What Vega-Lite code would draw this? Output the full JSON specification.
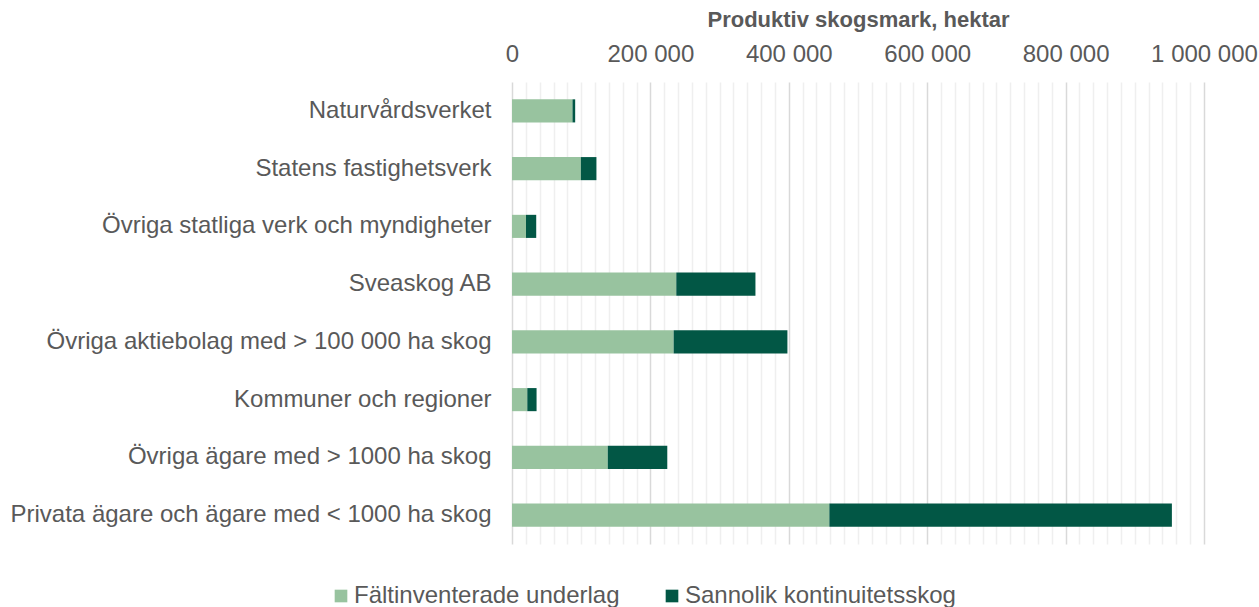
{
  "$schema": "https://vega.github.io/schema/vega-lite/v6.json",
  "width": 692,
  "height": 462,
  "autosize": {"type": "none"},
  "padding": {"left": 512, "top": 82, "right": 55, "bottom": 63},
  "background": "white",
  "config": {
    "font": "Liberation Sans",
    "view": {"stroke": null}
  },
  "data": {
    "values": [
      {"agare": "Naturvårdsverket", "typ": "Fältinventerade underlag", "hektar": 87400},
      {"agare": "Naturvårdsverket", "typ": "Sannolik kontinuitetsskog", "hektar": 3900},
      {"agare": "Statens fastighetsverk", "typ": "Fältinventerade underlag", "hektar": 99500},
      {"agare": "Statens fastighetsverk", "typ": "Sannolik kontinuitetsskog", "hektar": 22500},
      {"agare": "Övriga statliga verk och myndigheter", "typ": "Fältinventerade underlag", "hektar": 20200},
      {"agare": "Övriga statliga verk och myndigheter", "typ": "Sannolik kontinuitetsskog", "hektar": 14800},
      {"agare": "Sveaskog AB", "typ": "Fältinventerade underlag", "hektar": 237400},
      {"agare": "Sveaskog AB", "typ": "Sannolik kontinuitetsskog", "hektar": 114400},
      {"agare": "Övriga aktiebolag med > 100 000 ha skog", "typ": "Fältinventerade underlag", "hektar": 233600},
      {"agare": "Övriga aktiebolag med > 100 000 ha skog", "typ": "Sannolik kontinuitetsskog", "hektar": 164400},
      {"agare": "Kommuner och regioner", "typ": "Fältinventerade underlag", "hektar": 22100},
      {"agare": "Kommuner och regioner", "typ": "Sannolik kontinuitetsskog", "hektar": 13400},
      {"agare": "Övriga ägare med > 1000 ha skog", "typ": "Fältinventerade underlag", "hektar": 138400},
      {"agare": "Övriga ägare med > 1000 ha skog", "typ": "Sannolik kontinuitetsskog", "hektar": 86000},
      {"agare": "Privata ägare och ägare med < 1000 ha skog", "typ": "Fältinventerade underlag", "hektar": 458600},
      {"agare": "Privata ägare och ägare med < 1000 ha skog", "typ": "Sannolik kontinuitetsskog", "hektar": 495000}
    ]
  },
  "mark": {"type": "bar"},
  "encoding": {
    "y": {
      "field": "agare",
      "type": "nominal",
      "sort": null,
      "scale": {"paddingInner": 0.6, "paddingOuter": 0.3},
      "axis": {
        "title": null,
        "domain": false,
        "ticks": false,
        "labelFontSize": 24,
        "labelColor": "#595959",
        "labelPadding": 21,
        "labelLimit": 600
      }
    },
    "x": {
      "field": "hektar",
      "type": "quantitative",
      "stack": "zero",
      "scale": {"domain": [0, 1000000], "nice": false},
      "axis": {
        "orient": "top",
        "title": "Produktiv skogsmark, hektar",
        "titleFontSize": 22,
        "titleFontWeight": "bold",
        "titleColor": "#595959",
        "titlePadding": 11,
        "domain": false,
        "ticks": false,
        "labelFontSize": 24,
        "labelColor": "#595959",
        "labelPadding": 16,
        "labelOverlap": false,
        "labelFlush": false,
        "values": [0, 20000, 40000, 60000, 80000, 100000, 120000, 140000, 160000, 180000, 200000, 220000, 240000, 260000, 280000, 300000, 320000, 340000, 360000, 380000, 400000, 420000, 440000, 460000, 480000, 500000, 520000, 540000, 560000, 580000, 600000, 620000, 640000, 660000, 680000, 700000, 720000, 740000, 760000, 780000, 800000, 820000, 840000, 860000, 880000, 900000, 920000, 940000, 960000, 980000, 1000000],
        "labelExpr": "datum.value % 200000 === 0 ? replace(replace(format(datum.value, ','), ',', ' '), ',', ' ') : ''",
        "grid": true,
        "gridColor": {"condition": {"test": "datum.value % 200000 === 0", "value": "#d9d9d9"}, "value": "#efefef"},
        "gridWidth": 1.5
      }
    },
    "color": {
      "field": "typ",
      "type": "nominal",
      "scale": {
        "domain": ["Fältinventerade underlag", "Sannolik kontinuitetsskog"],
        "range": ["#98c39f", "#025745"]
      },
      "legend": {
        "title": null,
        "orient": "none",
        "direction": "horizontal",
        "legendX": -183,
        "legendY": 502,
        "symbolType": "square",
        "symbolSize": 160,
        "symbolStrokeWidth": 0,
        "labelFontSize": 24,
        "labelColor": "#595959",
        "labelOffset": 1,
        "columnPadding": 40,
        "labelLimit": 400,
        "padding": 0
      }
    }
  }
}
